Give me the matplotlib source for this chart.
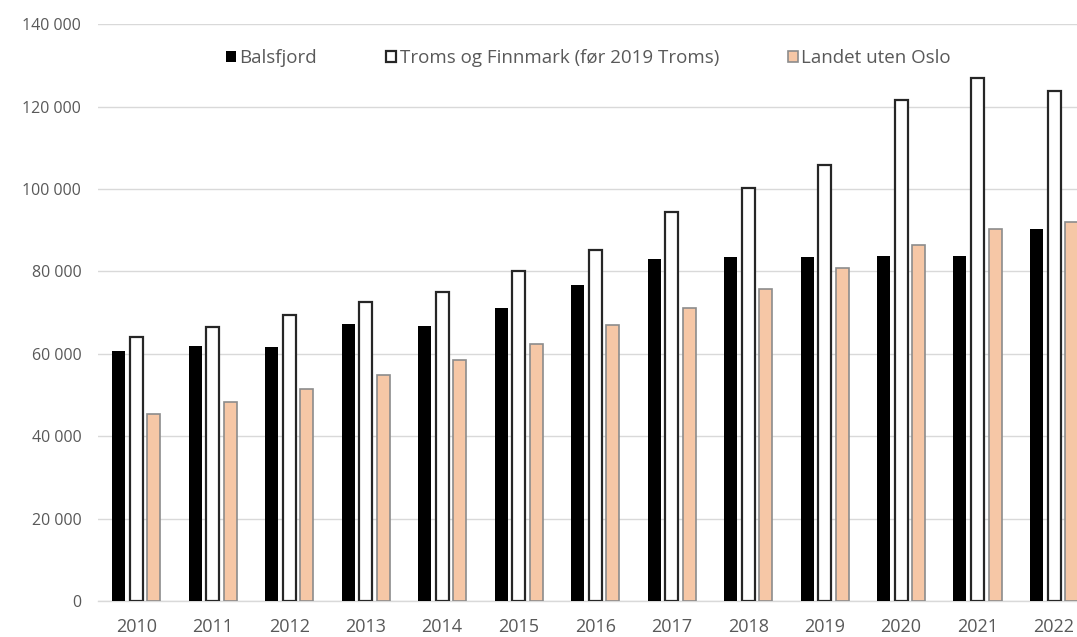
import numpy as np
import matplotlib
import matplotlib.pyplot as plt

matplotlib.use('Agg')

# Data
years = ["2010", "2011", "2012", "2013", "2014", "2015", "2016",
         "2017", "2018", "2019", "2020", "2021", "2022"]
balsfjord = [60700, 61800, 61600, 67300, 66800, 71100, 76600,
             82900, 83500, 83500, 83800, 83800, 90400]
troms = [64000, 66600, 69300, 72600, 74900, 80100, 85300,
         94400, 100200, 105900, 121700, 126900, 123800]
landet = [45300, 48200, 51500, 54800, 58600, 62500, 67000,
          71000, 75700, 80900, 86400, 90300, 92000]
series_names = ["Balsfjord", "Troms og Finnmark (før 2019 Troms)", "Landet uten Oslo"]

plt.rcParams['font.family'] = ['Open Sans', 'DejaVu Sans']
grey = "#595959"

fig = plt.figure(figsize=(10.77, 6.37), dpi=100)
ax = fig.add_axes([0.091, 0.0565, 0.909, 0.9055])

x = np.arange(len(years))
w = 0.17
off = 0.23
ax.bar(x - off, balsfjord, w, color="black", label=series_names[0], zorder=3)
ax.bar(x, troms, w, color="white", edgecolor="#262626", linewidth=1.6,
       label=series_names[1], zorder=3)
ax.bar(x + off, landet, w, color="#F6C7A6", edgecolor="#8c8c8c", linewidth=1.2,
       label=series_names[2], zorder=3)

ax.set_ylim(0, 140000)
ax.set_xlim(-0.5, 12.3)
ax.set_yticks(range(0, 140001, 20000))
ax.set_yticklabels([f"{v:,}".replace(",", " ") for v in range(0, 140001, 20000)])
ax.set_xticks(x)
ax.set_xticklabels(years)
ax.tick_params(axis="both", length=0, colors=grey)
ax.tick_params(axis="y", pad=12, labelsize=11.5)
ax.tick_params(axis="x", pad=12, labelsize=13)

ax.grid(axis="y", color="#d9d9d9", linewidth=1, zorder=0)
for s in ["top", "right", "left"]:
    ax.spines[s].set_visible(False)
ax.spines["bottom"].set_color("#d9d9d9")
ax.spines["bottom"].set_linewidth(1)

leg = ax.legend(loc="center left", bbox_to_anchor=(0.131, 0.941), ncol=3, frameon=False,
                fontsize=13.5, handlelength=0.5, handleheight=0.5, handletextpad=0.2,
                columnspacing=3.7, borderaxespad=0, borderpad=0, labelcolor=grey)

fig.savefig("out.png", dpi=100)
